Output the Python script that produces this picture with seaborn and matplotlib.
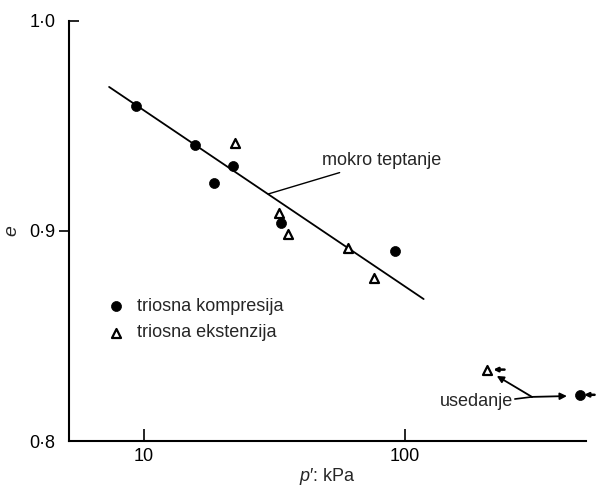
import numpy as np
import pandas as pd
import matplotlib
matplotlib.use("Agg")
import matplotlib.pyplot as plt
import matplotlib.lines as mlines
import matplotlib.ticker as mticker
import seaborn as sns

# --- SETUP ---
sns.set_theme(style="ticks")
plt.rcParams['font.family'] = ['Liberation Sans', 'DejaVu Sans']
plt.rcParams.update({'mathtext.fontset': 'custom',
                     'mathtext.it': 'Liberation Sans:italic',
                     'mathtext.rm': 'Liberation Sans'})

# --- DATA ---
komp_p = [9.3, 15.7, 18.5, 21.9, 33.5, 91.6, 468]
komp_e = [0.9595, 0.941, 0.923, 0.931, 0.904, 0.8905, 0.822]

eks_p = [22.3, 32.9, 35.6, 60.5, 76.0, 206]
eks_e = [0.942, 0.9086, 0.8986, 0.892, 0.8776, 0.834]

line_p = [7.35, 118]
line_e = [0.9686, 0.8676]

y_ticks = [0.8, 0.9, 1.0]
y_labels = ['0·8', '0·9', '1·0']
x_ticks = [10, 100]
x_labels = ['10', '100']

df_k = pd.DataFrame({'p': komp_p, 'e': komp_e})
df_x = pd.DataFrame({'p': eks_p, 'e': eks_e})
df_l = pd.DataFrame({'p': line_p, 'e': line_e})

fig = plt.figure(figsize=(5.96, 4.88), dpi=100)
ax = fig.add_axes([0.1158, 0.0963, 0.8672, 0.8607])

sns.lineplot(data=df_l, x='p', y='e', ax=ax, color='black', linewidth=1.3)
sns.scatterplot(data=df_k, x='p', y='e', ax=ax, marker='o', s=52,
                color='black', edgecolor='black', linewidth=0.5,
                label='triosna kompresija', zorder=3)
sns.scatterplot(data=df_x, x='p', y='e', ax=ax, marker='^', s=42,
                facecolor='white', edgecolor='black', linewidth=1.6,
                label='triosna ekstenzija', zorder=3)

ax.set_xscale('log')
ax.set_xlim(5.16, 494)
ax.set_ylim(0.8, 1.0)
ax.xaxis.set_major_locator(mticker.FixedLocator(x_ticks))
ax.xaxis.set_major_formatter(mticker.FixedFormatter(x_labels))
ax.xaxis.set_minor_locator(mticker.NullLocator())
ax.yaxis.set_major_locator(mticker.FixedLocator(y_ticks))
ax.yaxis.set_major_formatter(mticker.FixedFormatter(y_labels))

sns.despine(ax=ax)
for s in ['left', 'bottom']:
    ax.spines[s].set_linewidth(1.5)
    ax.spines[s].set_color('black')
ax.tick_params(axis='x', direction='in', length=9, width=1.2, labelsize=13, pad=5, colors='black')
ax.tick_params(axis='y', direction='out', length=7, width=1.2, labelsize=13, pad=3, colors='black')

# 0.8 tick hidden, 1.0 tick points into the plot
yt = ax.yaxis.get_major_ticks()
yt[0].tick1line.set_visible(False)
yt[2].tick1line.set_marker(mlines.TICKRIGHT)

ax.set_xlabel(r"$p$′: kPa", fontsize=13, labelpad=1)
ax.set_ylabel('e', fontsize=14, fontstyle='italic', labelpad=6)

leg = ax.legend(loc='center left', bbox_to_anchor=(0.074, 0.289), frameon=False,
                fontsize=13, handlelength=1.0, handletextpad=0.65,
                borderpad=0, borderaxespad=0, labelspacing=0.52)

# annotations
ax.annotate('mokro teptanje', xy=(29.9, 0.9176), xytext=(48.1, 0.9338),
            fontsize=13, va='center', ha='left',
            arrowprops=dict(arrowstyle='-', color='black', lw=1.0, shrinkA=2, shrinkB=0))

ax.text(259, 0.8186, 'usedanje', fontsize=13, ha='right', va='center')
ax.plot([264, 307], [0.82, 0.821], color='black', lw=1.2)
ax.annotate('', xy=(225, 0.831), xytext=(307, 0.821),
            arrowprops=dict(arrowstyle='-|>', color='black', lw=1.3,
                            mutation_scale=10, shrinkA=0, shrinkB=0))
ax.annotate('', xy=(418, 0.8214), xytext=(307, 0.821),
            arrowprops=dict(arrowstyle='-|>', color='black', lw=1.3,
                            mutation_scale=10, shrinkA=0, shrinkB=0))

# short stubs to the right of the settlement points
ax.annotate('', xy=(eks_p[-1] * 1.06, eks_e[-1]), xytext=(eks_p[-1] * 1.17, eks_e[-1]),
            arrowprops=dict(arrowstyle='-|>', color='black', lw=1.8,
                            mutation_scale=6, shrinkA=0, shrinkB=0),
            annotation_clip=False)
ax.annotate('', xy=(komp_p[-1] * 1.04, komp_e[-1]), xytext=(komp_p[-1] * 1.14, komp_e[-1]),
            arrowprops=dict(arrowstyle='-|>', color='black', lw=1.8,
                            mutation_scale=6, shrinkA=0, shrinkB=0),
            annotation_clip=False)

plt.savefig('out.png', dpi=100)
plt.close()
